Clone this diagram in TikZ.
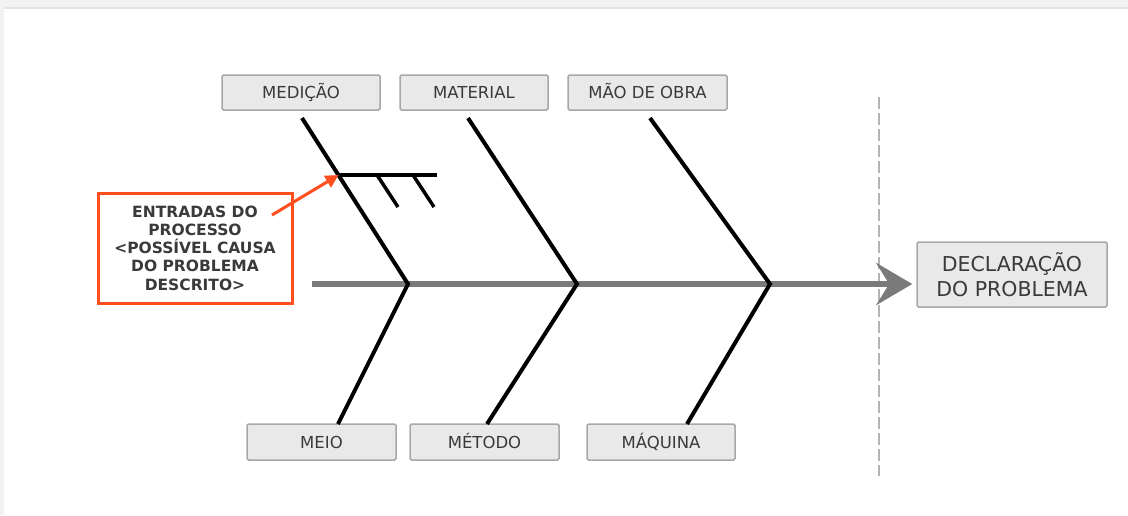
\documentclass[tikz,border=0pt]{standalone}
\usepackage{fontspec}
\setmainfont{DejaVu Sans}
\usetikzlibrary{arrows.meta}
\definecolor{bggray}{HTML}{F2F2F2}
\definecolor{topline}{HTML}{E4E4E4}
\definecolor{boxfill}{HTML}{E9E9E9}
\definecolor{boxline}{HTML}{A8A8A8}
\definecolor{txt}{HTML}{3A3A3A}
\definecolor{spine}{HTML}{7A7A7A}
\definecolor{redc}{HTML}{FF4F1F}
\definecolor{dashc}{HTML}{B4B4B4}
\begin{document}
\begin{tikzpicture}[x=1pt,y=-1pt,
  catbox/.style={draw=boxline,fill=boxfill,line width=1.5pt,rounded corners=1.5pt,
    minimum height=35pt,inner sep=0pt,text=txt,font=\fontsize{16.5}{19}\selectfont,
    text height=12pt,text depth=0pt},
  bone/.style={line width=4pt,black},
  smallbone/.style={line width=3.5pt,black}]
\useasboundingbox (0,0) rectangle (1128,515);
\fill[bggray] (0,0) rectangle (1128,515);
\fill[white] (4,9) rectangle (1128,515);
\draw[topline,line width=1.5pt] (4,8) -- (1128,8);
% dashed separator
\draw[dashc,line width=1.5pt,dash pattern=on 12pt off 4pt] (879,97) -- (879,476);
% category boxes
\node[catbox,minimum width=158pt] (med) at (301,92.5) {MEDIÇÃO};
\node[catbox,minimum width=148pt] (mat) at (474,92.5) {MATERIAL};
\node[catbox,minimum width=159pt] (mao) at (647.5,92.5) {MÃO DE OBRA};
\node[catbox,minimum width=149pt,minimum height=36pt] (meio) at (321.5,442) {MEIO};
\node[catbox,minimum width=149pt,minimum height=36pt] (met) at (484.5,442) {MÉTODO};
\node[catbox,minimum width=148pt,minimum height=36pt] (maq) at (661,442) {MÁQUINA};
\node[catbox,minimum width=190pt,minimum height=65pt,font=\fontsize{20.5}{24.5}\selectfont,align=center,
  text height=,text depth=] (decl) at (1012,274.5) {DECLARAÇÃO\\DO PROBLEMA};
% coordinates
\coordinate (s0) at (312,284);
\coordinate (j1) at (408,284);
\coordinate (j2) at (577,284);
\coordinate (j3) at (770,284);
\coordinate (t1) at (302,118);
\coordinate (t2) at (468,118);
\coordinate (t3) at (650,118);
\coordinate (b1) at (338,424);
\coordinate (b2) at (487,424);
\coordinate (b3) at (687,424);
\coordinate (h0) at (338.6,175);
\coordinate (h1) at (437,175);
\coordinate (d1a) at (377,175);
\coordinate (d1b) at (398,207);
\coordinate (d2a) at (413,175);
\coordinate (d2b) at (434,207);
% spine
\draw[spine,line width=6pt,-{Stealth[length=36pt,width=42pt,inset=13pt]}] (s0) -- ([xshift=-4pt]s0 -| decl.west);
% bones
\draw[bone,line join=miter] (t1) -- (j1) -- (b1);
\draw[bone,line join=miter] (t2) -- (j2) -- (b2);
\draw[bone,line join=miter] (t3) -- (j3) -- (b3);
\draw[smallbone] (h0) -- (h1);
\draw[smallbone] (d1a) -- (d1b);
\draw[smallbone] (d2a) -- (d2b);
% red annotation
\node[draw=redc,line width=3pt,fill=white,minimum width=194pt,minimum height=110pt,inner sep=0pt,
  align=center,text=txt,font=\fontsize{15.5}{18.3}\selectfont\bfseries] (note) at (195,248)
  {ENTRADAS DO\\PROCESSO\\<POSSÍVEL CAUSA\\DO PROBLEMA\\DESCRITO>};
\coordinate (a0) at (272,215);
\draw[redc,line width=3pt,-{Triangle[length=13pt,width=13pt]}] (a0) -- (h0);
\end{tikzpicture}
\end{document}
